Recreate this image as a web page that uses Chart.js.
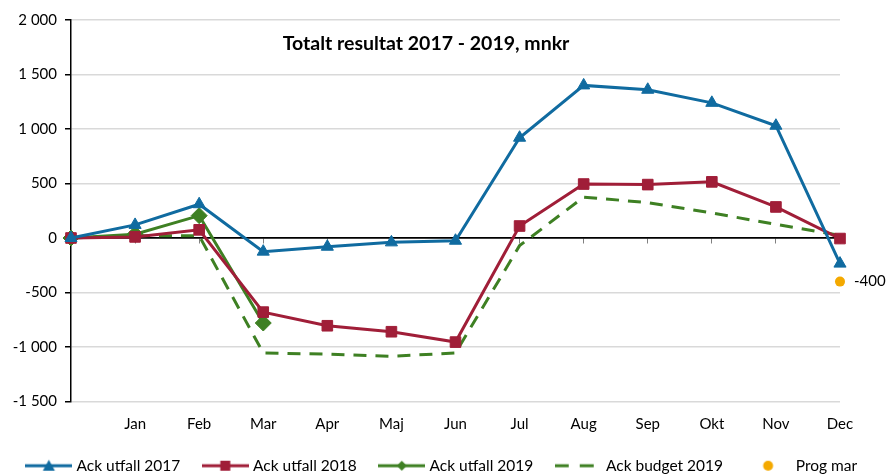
<!DOCTYPE html>
<html>
<head>
<meta charset="utf-8">
<script src="https://cdn.jsdelivr.net/npm/chart.js@4.4.1/dist/chart.umd.min.js"></script>
<style>
  html, body { margin: 0; padding: 0; background: #fff; }
  #wrap { width: 886px; height: 476px; }
</style>
</head>
<body>
<div id="wrap"><canvas id="resultChart" width="886" height="476"></canvas></div>
<script>
// =========================
// DATA
// =========================

const months =
  ["", "Jan", "Feb", "Mar", "Apr", "Maj", "Jun", "Jul", "Aug", "Sep", "Okt", "Nov", "Dec"];

const utfall2017 =
  [0, 120, 310, -125, -80, -40, -25, 920, 1400, 1360, 1240, 1030, -235];

const utfall2018 =
  [0, 10, 75, -680, -805, -860, -955, 110, 495, 490, 515, 285, -5];

const utfall2019 =
  [0, 35, 205, -780, null, null, null, null, null, null, null, null, null];

const budget2019 =
  [0, 20, 20, -1055, -1065, -1085, -1055, -70, 375, 325, 230, 125, 25];

const progMar =
  [null, null, null, null, null, null, null, null, null, null, null, null, -400];

const yTicks = [-1500, -1000, -500, 0, 500, 1000, 1500, 2000];

const chartTitle = "Totalt resultat 2017 - 2019, mnkr";

// =========================
// COLOURS
// =========================

const BLUE = "#106ba0";
const RED = "#a01e38";
const GREEN = "#3e8023";
const ORANGE = "#f4a900";
const FONT = "Lato, 'Open Sans', sans-serif";

// =========================
// LEGEND ICONS
// =========================

function legendIcon(color, marker, dashed)
{
  const c = document.createElement("canvas");
  c.width = 47;
  c.height = 16;
  const g = c.getContext("2d");
  const cy = 8;
  const cx = 23.5;

  if (marker !== "dot")
  {
    g.strokeStyle = color;
    g.lineWidth = 3;
    if (dashed) g.setLineDash([14, 11]);
    g.beginPath();
    g.moveTo(0, cy);
    g.lineTo(47, cy);
    g.stroke();
    g.setLineDash([]);
  }

  g.fillStyle = color;
  g.beginPath();
  if (marker === "triangle")
  {
    g.moveTo(cx, cy - 6);
    g.lineTo(cx + 6, cy + 5);
    g.lineTo(cx - 6, cy + 5);
  }
  else if (marker === "rect")
  {
    g.rect(cx - 5, cy - 5, 10, 10);
  }
  else if (marker === "diamond")
  {
    g.moveTo(cx, cy - 5);
    g.lineTo(cx + 5, cy);
    g.lineTo(cx, cy + 5);
    g.lineTo(cx - 5, cy);
  }
  else if (marker === "dot")
  {
    g.arc(cx, cy, 5, 0, Math.PI * 2);
  }
  g.closePath();
  if (marker) g.fill();

  return c;
}

const icons = [
  legendIcon(BLUE, "triangle", false),
  legendIcon(RED, "rect", false),
  legendIcon(GREEN, "diamond", false),
  legendIcon(GREEN, null, true),
  legendIcon(ORANGE, "dot", false)
];

// =========================
// PLUGIN: title + value label
// =========================

const extras = {
  id: "extras",
  afterDraw(chart)
  {
    const ctx = chart.ctx;
    ctx.save();
    ctx.fillStyle = "#000";
    ctx.font = "bold 19.5px " + FONT;
    ctx.textAlign = "center";
    ctx.textBaseline = "middle";
    ctx.fillText(chartTitle, 426, 44);

    const meta = chart.getDatasetMeta(4);
    const last = progMar.length - 1;
    const pt = meta.data[last];
    if (pt && progMar[last] !== null)
    {
      ctx.font = "15px " + FONT;
      ctx.textAlign = "left";
      ctx.fillText(String(progMar[last]), pt.x + 14, pt.y);
    }
    ctx.restore();
  }
};

// =========================
// CHART
// =========================

function fmt(v)
{
  const s = Math.abs(v).toString().replace(/\B(?=(\d{3})+(?!\d))/g, " ");
  return (v < 0 ? "-" : "") + s;
}

const ctx = document.getElementById("resultChart");

new Chart(ctx, {
  type: "line",
  data: {
    labels: months,
    datasets: [
      {
        label: "Ack utfall 2017",
        data: utfall2017,
        borderColor: BLUE,
        backgroundColor: BLUE,
        borderWidth: 3,
        pointStyle: "triangle",
        pointRadius: 7,
        pointBorderWidth: 1,
        tension: 0
      },
      {
        label: "Ack utfall 2018",
        data: utfall2018,
        borderColor: RED,
        backgroundColor: RED,
        borderWidth: 3,
        pointStyle: "rect",
        pointRadius: 7.5,
        pointBorderWidth: 1,
        tension: 0
      },
      {
        label: "Ack utfall 2019",
        data: utfall2019,
        borderColor: GREEN,
        backgroundColor: GREEN,
        borderWidth: 3,
        pointStyle: "rectRot",
        pointRadius: 8,
        pointBorderWidth: 1,
        tension: 0,
        spanGaps: false
      },
      {
        label: "Ack budget 2019",
        data: budget2019,
        borderColor: GREEN,
        backgroundColor: GREEN,
        borderWidth: 3,
        borderDash: [13, 9],
        pointRadius: 0,
        tension: 0
      },
      {
        label: "Prog mar",
        data: progMar,
        borderColor: ORANGE,
        backgroundColor: ORANGE,
        showLine: false,
        pointStyle: "circle",
        pointRadius: 5,
        pointBorderWidth: 0
      }
    ]
  },
  options: {
    responsive: false,
    animation: false,
    layout: {
      padding: { top: 20, right: 0, left: 0, bottom: -7.5 }
    },
    plugins: {
      tooltip: { enabled: false },
      title: { display: false },
      legend: {
        position: "bottom",
        labels: {
          usePointStyle: true,
          pointStyleWidth: 40,
          boxHeight: 15,
          padding: 25,
          color: "#000",
          font: { family: FONT, size: 15.5 },
          generateLabels(chart)
          {
            return chart.data.datasets.map((ds, i) => ({
              text: ds.label,
              pointStyle: icons[i],
              fillStyle: ds.borderColor,
              strokeStyle: ds.borderColor,
              lineWidth: 0,
              hidden: false,
              datasetIndex: i
            }));
          }
        }
      }
    },
    scales: {
      x: {
        type: "category",
        position: "bottom",
        offset: false,
        afterFit(scale)
        {
          scale.height = 31.5;
        },
        grid: { display: false, drawTicks: false },
        border: { display: false },
        ticks: {
          color: "#000",
          font: { family: FONT, size: 15 },
          padding: 14,
          maxRotation: 0,
          autoSkip: false
        }
      },
      x2: {
        type: "category",
        axis: "x",
        labels: months,
        position: { y: 0 },
        offset: false,
        grid: {
          drawOnChartArea: false,
          tickLength: 5,
          tickColor: "#808080",
          lineWidth: 1
        },
        border: { display: true, color: "#000", width: 1.5 },
        ticks: { display: false }
      },
      y: {
        min: -1500,
        max: 2000,
        afterBuildTicks(scale)
        {
          scale.ticks = yTicks.map(v => ({ value: v }));
        },
        afterFit(scale)
        {
          scale.width = 71;
        },
        grid: {
          color: c => (c.tick && c.tick.value === 0 ? "#000" : "#d9d9d9"),
          lineWidth: 1.5,
          tickLength: 6,
          tickColor: "#000"
        },
        border: { display: true, color: "#000", width: 1.5 },
        ticks: {
          color: "#000",
          font: { family: FONT, size: 15 },
          padding: 8,
          callback: v => fmt(v)
        }
      },
      // empty right-hand spacer so the plot ends at Dec with room for the label
      yRight: {
        type: "linear",
        position: "right",
        afterFit(scale)
        {
          scale.width = 46;
        },
        grid: { display: false },
        border: { display: false },
        ticks: { display: false }
      }
    }
  },
  plugins: [extras]
});
</script>
</body>
</html>
